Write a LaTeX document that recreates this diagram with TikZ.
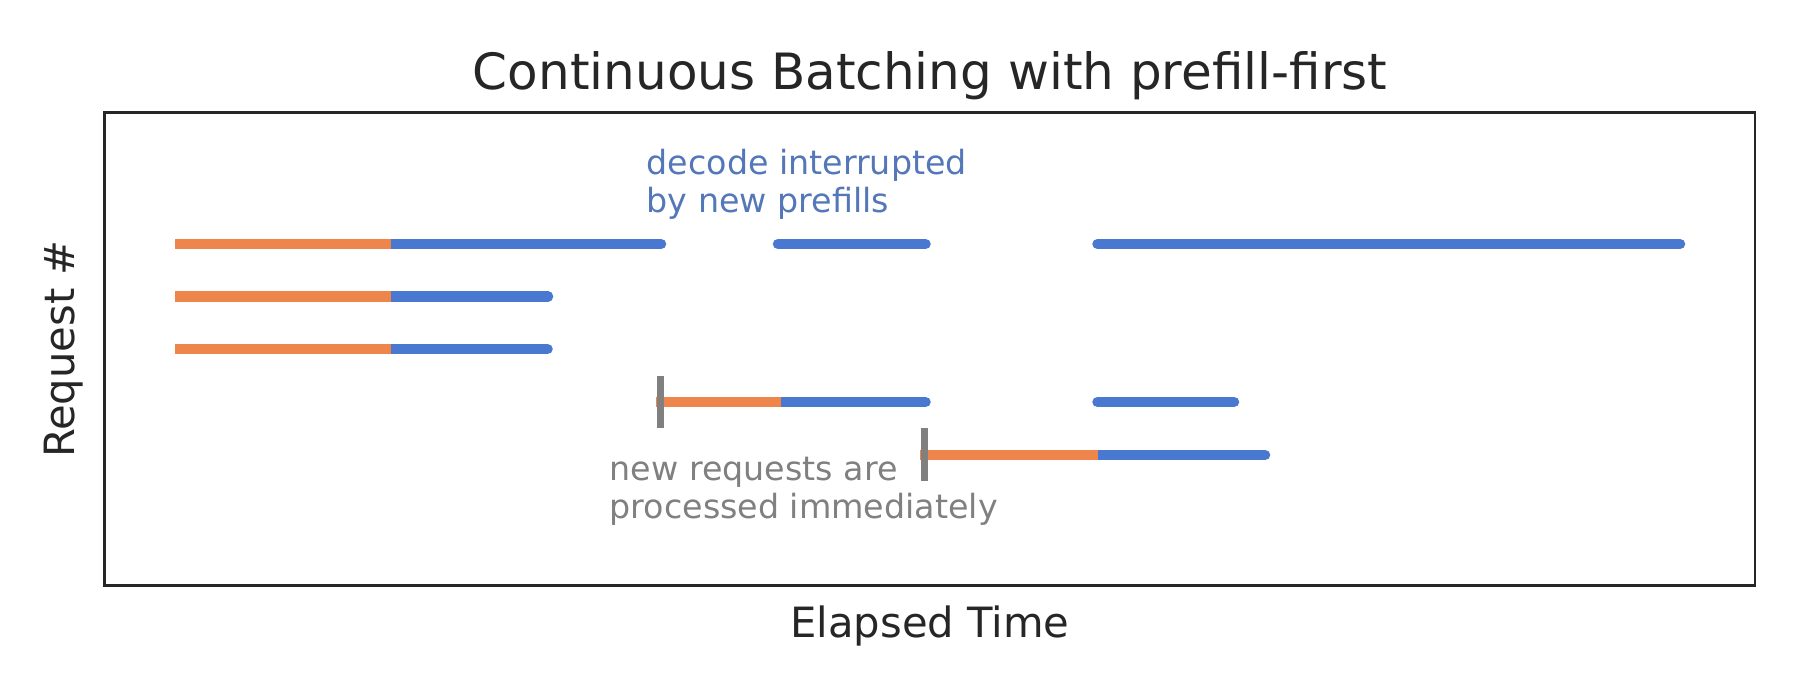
\documentclass[tikz,border=0pt]{standalone}
\usepackage{fontspec}
\setmainfont{DejaVu Sans}
\definecolor{cborange}{HTML}{EE854A}
\definecolor{cbblue}{HTML}{4878D0}
\definecolor{annblue}{HTML}{5377B8}
\definecolor{anngray}{HTML}{808080}
\definecolor{axisdark}{HTML}{262626}
\tikzset{
  prefill/.style={draw=cborange, line width=10.5bp, line cap=butt},
  decode/.style={draw=cbblue, line width=10.5bp, line cap=round},
  arrival/.style={draw=anngray, line width=6.5bp, line cap=butt},
  frame/.style={draw=axisdark, line width=2.6bp},
  titletext/.style={text=axisdark, inner sep=0pt, font=\fontsize{50bp}{60bp}\selectfont},
  labeltext/.style={text=axisdark, inner sep=0pt, font=\fontsize{41.7bp}{50bp}\selectfont},
  annotext/.style={inner sep=0pt, anchor=base west, font=\fontsize{33.3bp}{40bp}\selectfont},
}
\begin{document}
\begin{tikzpicture}[x=1bp, y=-1bp]
\useasboundingbox (0,0) rectangle (1800,690);
\fill[white] (0,0) rectangle (1800,690);
% axes frame
\draw[frame] (104.5,112.5) rectangle (1755,585.5);
% title and axis labels
\node[titletext, anchor=base] (title) at (930,90) {Continuous Batching with prefill-first};
\node[labeltext, anchor=base] (xlabel) at (930,637) {Elapsed Time};
\node[labeltext, anchor=base, rotate=90] (ylabel) at (74,349) {Request \#};
% row coordinates
\coordinate (r1a) at (175,244);   \coordinate (r1b) at (391,244);
\coordinate (r1c) at (661,244);   \coordinate (r1d) at (778,244);
\coordinate (r1e) at (925.5,244); \coordinate (r1f) at (1097.5,244);
\coordinate (r1g) at (1680,244);
\coordinate (r2a) at (175,296.5); \coordinate (r2b) at (391,296.5);
\coordinate (r2c) at (548,296.5);
\coordinate (r3a) at (175,349);   \coordinate (r3b) at (391,349);
\coordinate (r3c) at (547.5,349);
\coordinate (r4a) at (656,402);   \coordinate (r4b) at (781,402);
\coordinate (r4c) at (925.5,402); \coordinate (r4d) at (1097.5,402);
\coordinate (r4e) at (1234,402);
\coordinate (r5a) at (920,455);   \coordinate (r5b) at (1097.7,455);
\coordinate (r5c) at (1265,455);
\coordinate (t1a) at (660.7,376); \coordinate (t1b) at (660.7,428);
\coordinate (t2a) at (924.7,428.3); \coordinate (t2b) at (924.7,481);
% decode segments
\draw[decode] (r1b) -- (r1c);
\draw[decode] (r1d) -- (r1e);
\draw[decode] (r1f) -- (r1g);
\draw[decode] (r2b) -- (r2c);
\draw[decode] (r3b) -- (r3c);
\draw[decode] (r4b) -- (r4c);
\draw[decode] (r4d) -- (r4e);
\draw[decode] (r5b) -- (r5c);
% prefill segments
\draw[prefill] (r1a) -- (r1b);
\draw[prefill] (r2a) -- (r2b);
\draw[prefill] (r3a) -- (r3b);
\draw[prefill] (r4a) -- (r4b);
\draw[prefill] (r5a) -- (r5b);
% arrival marks
\draw[arrival] (t1a) -- (t1b);
\draw[arrival] (t2a) -- (t2b);
% annotations
\node[annotext, text=annblue] (dec1) at (646.5,174.3) {decode interrupted};
\node[annotext, text=annblue] (dec2) at (646.5,212.3) {by new prefills};
\node[annotext, text=anngray] (new1) at (609.5,480.5) {new requests are};
\node[annotext, text=anngray] (new2) at (609.5,518.5) {processed immediately};
\end{tikzpicture}
\end{document}
